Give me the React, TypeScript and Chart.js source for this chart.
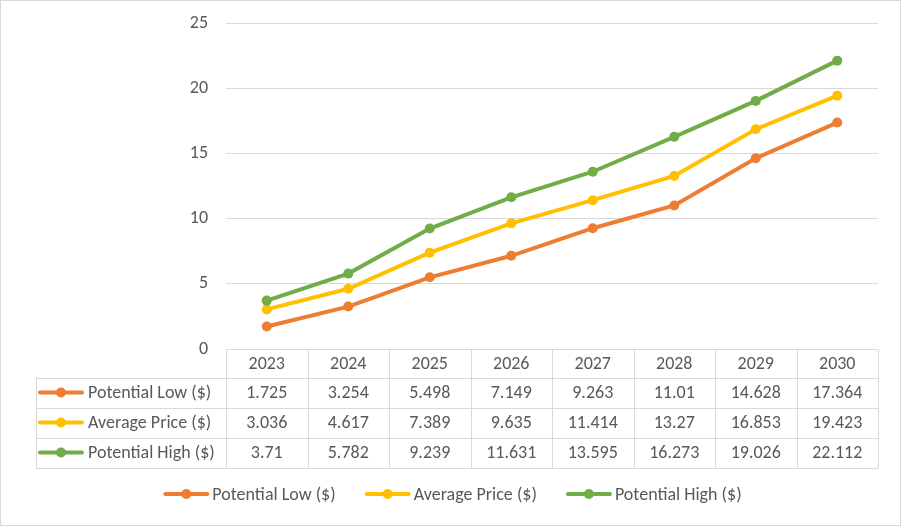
import React, { useEffect, useRef } from 'react';
import { Chart, registerables } from 'chart.js';

Chart.register(...registerables);

const years = ['2023', '2024', '2025', '2026', '2027', '2028', '2029', '2030'];
const potentialLow = [1.725, 3.254, 5.498, 7.149, 9.263, 11.01, 14.628, 17.364];
const averagePrice = [3.036, 4.617, 7.389, 9.635, 11.414, 13.27, 16.853, 19.423];
const potentialHigh = [3.71, 5.782, 9.239, 11.631, 13.595, 16.273, 19.026, 22.112];
const seriesNames = ['Potential Low ($)', 'Average Price ($)', 'Potential High ($)'];
const seriesColors = ['#ED7D31', '#FFC000', '#70AD47'];
const yMin = 0;
const yMax = 25;
const yStep = 5;

const FONT = 'Carlito, Calibri, Lato, sans-serif';
const FSIZE = 18;
const TEXT = '#595959';
const GRID = '#D9D9D9';

function drawKey(ctx: CanvasRenderingContext2D, x: number, y: number, color: string) {
  ctx.save();
  ctx.strokeStyle = color;
  ctx.lineWidth = 4;
  ctx.lineCap = 'round';
  ctx.beginPath();
  ctx.moveTo(x + 1, y);
  ctx.lineTo(x + 43, y);
  ctx.stroke();
  ctx.fillStyle = color;
  ctx.beginPath();
  ctx.arc(x + 22, y, 5, 0, Math.PI * 2);
  ctx.fill();
  ctx.restore();
}

const tablePlugin = {
  id: 'dataTable',
  afterDraw(chart: any) {
    const ctx: CanvasRenderingContext2D = chart.ctx;
    const area = chart.chartArea;
    const xs = chart.scales.x;
    const n = years.length;
    const colW = (area.right - area.left) / n;
    const top = area.bottom;
    const rows = [top, top + 28.5, top + 58.5, top + 88.5, top + 118.5];
    const labelLeft = 36;
    const data = [potentialLow, averagePrice, potentialHigh];

    ctx.save();
    ctx.strokeStyle = GRID;
    ctx.lineWidth = 1;
    const al = (v: number) => Math.round(v) + 0.5;
    ctx.beginPath();
    ctx.moveTo(area.left, al(rows[0]));
    ctx.lineTo(area.right, al(rows[0]));
    for (let r = 1; r < rows.length; r++) {
      ctx.moveTo(labelLeft, al(rows[r]));
      ctx.lineTo(area.right, al(rows[r]));
    }
    for (let i = 0; i <= n; i++) {
      const x = al(area.left + i * colW);
      ctx.moveTo(x, al(rows[0]));
      ctx.lineTo(x, al(rows[4]));
    }
    ctx.moveTo(al(labelLeft), al(rows[1]));
    ctx.lineTo(al(labelLeft), al(rows[4]));
    ctx.stroke();

    ctx.fillStyle = TEXT;
    ctx.font = `${FSIZE}px ${FONT}`;
    ctx.textAlign = 'center';
    ctx.textBaseline = 'middle';
    for (let i = 0; i < n; i++) {
      const cx = xs.getPixelForValue(i);
      ctx.fillText(years[i], cx, (rows[0] + rows[1]) / 2 + 1);
      for (let s = 0; s < 3; s++) {
        ctx.fillText(String(data[s][i]), cx, (rows[s + 1] + rows[s + 2]) / 2 + 1);
      }
    }
    ctx.textAlign = 'left';
    for (let s = 0; s < 3; s++) {
      const cy = (rows[s + 1] + rows[s + 2]) / 2;
      drawKey(ctx, 39, cy, seriesColors[s]);
      ctx.fillStyle = TEXT;
      ctx.fillText(seriesNames[s], 88, cy + 1);
    }

    const ly = 494;
    const widths = seriesNames.map((t) => 48 + ctx.measureText(t).width);
    const gap = 30;
    const total = widths.reduce((a, b) => a + b, 0) + gap * (widths.length - 1);
    let lx = 453 - total / 2;
    for (let s = 0; s < 3; s++) {
      drawKey(ctx, lx, ly, seriesColors[s]);
      ctx.fillStyle = TEXT;
      ctx.fillText(seriesNames[s], lx + 48, ly + 1);
      lx += widths[s] + gap;
    }

    ctx.strokeStyle = GRID;
    ctx.strokeRect(0.5, 0.5, chart.width - 2, chart.height - 2);
    ctx.restore();
  },
};

export default function App() {
  const ref = useRef<HTMLCanvasElement>(null);
  useEffect(() => {
    document.body.style.margin = '0';
    const chart = new Chart(ref.current!, {
      type: 'line',
      data: {
        labels: years,
        datasets: [potentialLow, averagePrice, potentialHigh].map((d, i) => ({
          label: seriesNames[i],
          data: d,
          borderColor: seriesColors[i],
          backgroundColor: seriesColors[i],
          borderWidth: 4,
          pointRadius: 5,
          pointBorderWidth: 0,
          pointBackgroundColor: seriesColors[i],
          tension: 0,
          order: 3 - i,
        })),
      },
      options: {
        animation: false,
        responsive: false,
        layout: { autoPadding: false, padding: { top: 23, bottom: 178, right: 24, left: 0 } },
        plugins: { legend: { display: false }, tooltip: { enabled: false } },
        scales: {
          x: { type: 'category', display: false, offset: true },
          y: {
            min: yMin,
            max: yMax,
            ticks: { stepSize: yStep, padding: 18, color: TEXT, font: { family: FONT, size: FSIZE } },
            grid: { color: GRID, drawTicks: false, lineWidth: 1 },
            border: { display: false },
            afterFit: (scale: any) => {
              scale.width = 226;
              scale.paddingTop = 0;
              scale.paddingBottom = 0;
            },
          },
        },
      },
      plugins: [tablePlugin],
    });
    return () => chart.destroy();
  }, []);
  return <canvas ref={ref} width={902} height={527} />;
}
